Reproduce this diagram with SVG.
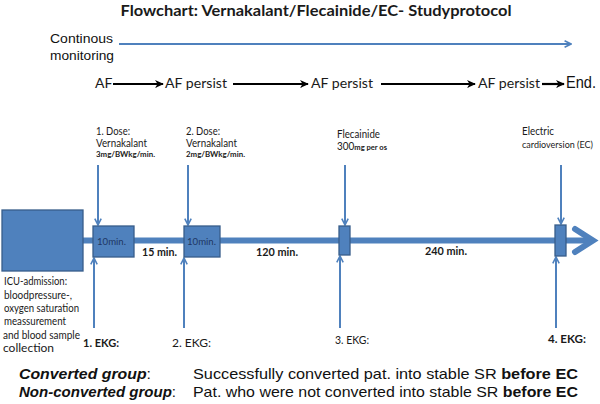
<svg xmlns="http://www.w3.org/2000/svg" width="600" height="404" viewBox="0 0 600 404">
<style>
.c{font-family:Lato,"Open Sans","Liberation Sans",sans-serif;fill:#1a1a1a}
.a{font-family:"Liberation Sans",Arial,sans-serif;fill:#111}
.box{fill:#4F81BD;stroke:#385D8A;stroke-width:1.3}
.thin{stroke:#4F81BD;stroke-width:2;fill:none}
.blk{stroke:#000;stroke-width:2.2;fill:none}
</style>
<defs>
<marker id="vh" viewBox="0 0 10 10" refX="9" refY="5" markerWidth="8" markerHeight="8" markerUnits="userSpaceOnUse" orient="auto">
<path d="M1,1 L9,5 L1,9" fill="none" stroke="#4F81BD" stroke-width="2"/>
</marker>
<marker id="bh" viewBox="0 0 10 10" refX="9" refY="5" markerWidth="9" markerHeight="9" markerUnits="userSpaceOnUse" orient="auto">
<path d="M0,0.5 L10,5 L0,9.5 L3,5 z" fill="#000"/>
</marker>
</defs>

<text class="c" x="316" y="16" text-anchor="middle" font-size="16" font-weight="bold" textLength="391" lengthAdjust="spacingAndGlyphs">Flowchart: Vernakalant/Flecainide/EC- Studyprotocol</text>

<g id="monitoring">
<text class="a" x="50" y="43" font-size="13" textLength="63" lengthAdjust="spacingAndGlyphs">Continous</text>
<text class="a" x="50" y="60" font-size="13" textLength="64" lengthAdjust="spacingAndGlyphs">monitoring</text>
</g>

<g id="states" class="c" font-size="14">
<text x="95" y="88">AF</text>
<text x="165" y="88" textLength="62" lengthAdjust="spacingAndGlyphs">AF persist</text>
<text x="311" y="88" textLength="62" lengthAdjust="spacingAndGlyphs">AF persist</text>
<text x="478" y="88" textLength="62" lengthAdjust="spacingAndGlyphs">AF persist</text>
<text class="a" x="566" y="88" font-size="16.5" textLength="30" lengthAdjust="spacingAndGlyphs">End.</text>
</g>

<g id="connectors">
<line class="thin" x1="119" y1="44" x2="571" y2="44" marker-end="url(#vh)"/>
<line class="blk" x1="113" y1="84" x2="163" y2="84" marker-end="url(#bh)"/>
<line class="blk" x1="233" y1="84" x2="308" y2="84" marker-end="url(#bh)"/>
<line class="blk" x1="381" y1="84" x2="475" y2="84" marker-end="url(#bh)"/>
<line class="blk" x1="542" y1="84" x2="564" y2="84" marker-end="url(#bh)"/>
<line x1="80" y1="240.5" x2="590" y2="240.5" stroke="#4F81BD" stroke-width="6"/>
<polyline points="575,229 593,240.5 575,252" fill="none" stroke="#4F81BD" stroke-width="6" stroke-linecap="round"/>
<line class="thin" x1="98" y1="165" x2="98" y2="225" marker-end="url(#vh)"/>
<line class="thin" x1="188" y1="165" x2="188" y2="225" marker-end="url(#vh)"/>
<line class="thin" x1="345" y1="165" x2="345" y2="225" marker-end="url(#vh)"/>
<line class="thin" x1="561" y1="165" x2="561" y2="224" marker-end="url(#vh)"/>
<line class="thin" x1="94" y1="328" x2="94" y2="258" marker-end="url(#vh)"/>
<line class="thin" x1="184" y1="328" x2="184" y2="258" marker-end="url(#vh)"/>
<line class="thin" x1="340" y1="328" x2="340" y2="256" marker-end="url(#vh)"/>
<line class="thin" x1="556" y1="328" x2="556" y2="257" marker-end="url(#vh)"/>
</g>

<g id="icu">
<rect class="box" x="2" y="210" width="81" height="61"/>
<g class="c" font-size="11">
<text x="4" y="285" textLength="63" lengthAdjust="spacingAndGlyphs">ICU-admission:</text>
<text x="4" y="298.5" textLength="68" lengthAdjust="spacingAndGlyphs">bloodpressure-,</text>
<text x="4" y="311.5" textLength="75" lengthAdjust="spacingAndGlyphs">oxygen saturation</text>
<text x="4" y="325" textLength="62" lengthAdjust="spacingAndGlyphs">meassurement</text>
<text x="3" y="338.5" textLength="77" lengthAdjust="spacingAndGlyphs">and  blood sample</text>
<text x="3" y="352" textLength="51" lengthAdjust="spacingAndGlyphs">collection</text>
</g>
</g>

<g id="dose1">
<rect class="box" x="93" y="226" width="41" height="31"/>
<text x="97" y="245" font-size="10" font-family="Lato,sans-serif" fill="#1F3763" textLength="29" lengthAdjust="spacingAndGlyphs">10min.</text>
<g class="c">
<text x="96" y="135" font-size="11" textLength="34" lengthAdjust="spacingAndGlyphs">1. Dose:</text>
<text x="96" y="147" font-size="11" textLength="51" lengthAdjust="spacingAndGlyphs">Vernakalant</text>
<text x="96" y="157" font-size="8" font-weight="bold" textLength="59" lengthAdjust="spacingAndGlyphs">3mg/BWkg/min.</text>
</g>
</g>

<g id="dose2">
<rect class="box" x="184" y="226" width="36" height="31"/>
<text x="187" y="245" font-size="10" font-family="Lato,sans-serif" fill="#1F3763" textLength="29" lengthAdjust="spacingAndGlyphs">10min.</text>
<g class="c">
<text x="186" y="135" font-size="11" textLength="34" lengthAdjust="spacingAndGlyphs">2. Dose:</text>
<text x="186" y="147" font-size="11" textLength="51" lengthAdjust="spacingAndGlyphs">Vernakalant</text>
<text x="186" y="157" font-size="8" font-weight="bold" textLength="59" lengthAdjust="spacingAndGlyphs">2mg/BWkg/min.</text>
</g>
</g>

<g id="flecainide">
<rect class="box" x="339" y="226" width="11" height="29"/>
<g class="c">
<text x="337" y="138" font-size="10.5" textLength="43" lengthAdjust="spacingAndGlyphs">Flecainide</text>
<text x="337" y="150" font-size="10.5" textLength="50" lengthAdjust="spacingAndGlyphs">300<tspan font-size="8" font-weight="bold">mg per os</tspan></text>
</g>
</g>

<g id="ec">
<rect class="box" x="555" y="225" width="11" height="31"/>
<g class="c" font-size="9.5">
<text x="522" y="135" font-size="10.5" textLength="32" lengthAdjust="spacingAndGlyphs">Electric</text>
<text x="522" y="148" textLength="71" lengthAdjust="spacingAndGlyphs">cardioversion (EC)</text>
</g>
</g>

<g id="intervals" class="c" font-size="11.5" font-weight="bold">
<text x="142" y="256" textLength="35" lengthAdjust="spacingAndGlyphs">15 min.</text>
<text x="256" y="256" textLength="42" lengthAdjust="spacingAndGlyphs">120 min.</text>
<text x="425" y="255" textLength="42" lengthAdjust="spacingAndGlyphs">240 min.</text>
</g>

<g id="ekg" class="c" font-size="11">
<text x="83" y="347" font-weight="bold" textLength="36" lengthAdjust="spacingAndGlyphs">1. EKG:</text>
<text x="172" y="347" textLength="39" lengthAdjust="spacingAndGlyphs">2. EKG:</text>
<text x="335" y="344" textLength="34" lengthAdjust="spacingAndGlyphs">3. EKG:</text>
<text x="548" y="343" font-weight="bold" textLength="38" lengthAdjust="spacingAndGlyphs">4. EKG:</text>
</g>

<g id="groups" class="a" font-size="14.5">
<text x="19" y="379" font-weight="bold" font-style="italic" textLength="132" lengthAdjust="spacingAndGlyphs">Converted group<tspan font-weight="normal" font-style="normal">:</tspan></text>
<text x="19" y="397" font-weight="bold" font-style="italic" textLength="157" lengthAdjust="spacingAndGlyphs">Non-converted group<tspan font-weight="normal" font-style="normal">:</tspan></text>
<text x="193" y="379" textLength="385" lengthAdjust="spacingAndGlyphs">Successfully converted pat. into stable SR <tspan font-weight="bold">before EC</tspan></text>
<text x="193" y="397" textLength="385" lengthAdjust="spacingAndGlyphs">Pat. who were not converted into stable SR <tspan font-weight="bold">before EC</tspan></text>
</g>
</svg>
